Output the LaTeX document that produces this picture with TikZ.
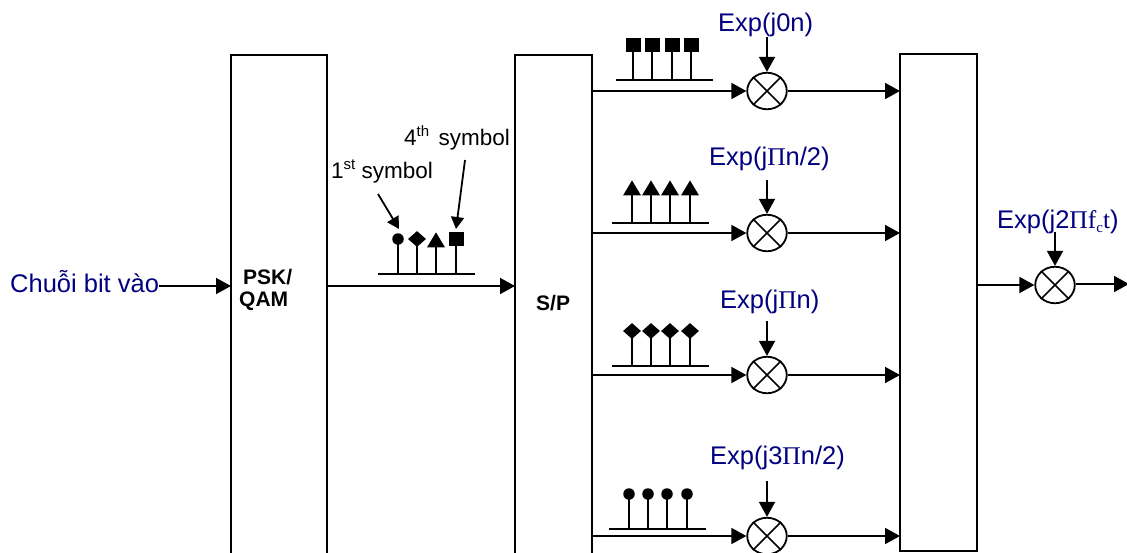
\documentclass[tikz,border=0pt]{standalone}
\usepackage{fontspec}
\setmainfont{Liberation Sans}
\newfontfamily\serifpi{Liberation Serif}
\usetikzlibrary{arrows.meta,shapes.geometric}
\definecolor{labelblue}{RGB}{0,0,128}
\newcommand{\PiG}{{\serifpi Π}}
\newcommand{\supt}[1]{\raisebox{9pt}{\fontsize{15}{15}\selectfont #1}}
\tikzset{
  block/.style={draw=black,line width=2pt,outer sep=0pt,fill=none,anchor=north west,inner sep=0pt,minimum width=#1},
  mixer/.style={draw=black,line width=1.8pt,ellipse,minimum width=39.5pt,minimum height=36.5pt,inner sep=0pt},
  flow/.style={line width=1.8pt,-{Triangle[length=15pt,width=16pt]}},
  thin flow/.style={line width=1.8pt,-{Triangle[length=12pt,width=13pt]}},
  wire/.style={line width=1.8pt},
  elabel/.style={text=labelblue,inner sep=0pt,anchor=base west,font=\fontsize{25.5}{30}\selectfont},
  blocktext/.style={inner sep=0pt,anchor=base west,font=\fontsize{21}{25}\selectfont\bfseries},
  symtext/.style={inner sep=0pt,anchor=base west,font=\fontsize{22.5}{27}\selectfont},
  sqsym/.style={fill=black,inner sep=0pt,minimum width=15pt,minimum height=14.5pt},
  dsym/.style={diamond,fill=black,inner sep=0pt,minimum width=18pt,minimum height=16pt},
  csym/.style={circle,fill=black,inner sep=0pt,minimum size=11.5pt},
  tsym/.style={isosceles triangle,isosceles triangle apex angle=60,isosceles triangle stretches,shape border rotate=90,fill=black,inner sep=0pt,minimum width=18pt,minimum height=15pt,anchor=apex},
}
\newcommand{\stemgroup}[7]{%
  \coordinate (#1L) at (#5,#4);
  \coordinate (#1R) at (#6,#4);
  \draw[wire] (#1L) -- (#1R);
  \foreach \sx [count=\si] in {#7} {
    \node[#2] (#1s\si) at (\sx,#3) {};
    \coordinate (#1b\si) at (\sx,#4);
    \draw[wire] (#1s\si.center) -- (#1b\si);
  }
}
\newcommand{\cross}[1]{\draw[line width=1.6pt] (#1.45) -- (#1.225) (#1.135) -- (#1.315);}
\begin{document}
\begin{tikzpicture}[x=1pt,y=-1pt]
\useasboundingbox (0,0) rectangle (1127,552);
\clip (0,0) rectangle (1127,552);
% blocks
\node[block=96pt,minimum height=520pt] (psk) at (231,55) {};
\node[block=77pt,minimum height=520pt] (sp) at (515,55) {};
\node[block=77pt,minimum height=497pt] (ifft) at (900,54) {};
\node[blocktext] (psklabel) at (243,284) {PSK/};
\node[blocktext] (qamlabel) at (239,306) {QAM};
\node[blocktext] (splabel) at (536,310) {S/P};
% input
\node[elabel] (input) at (10,292.5) {Chuỗi bit vào};
\draw[flow] (input.east |- 0,286) -- (psk.west |- 0,286);
\draw[flow] (psk.east |- 0,286) -- (sp.west |- 0,286);
% mixers
\node[mixer] (m1) at (767,91) {};
\node[mixer] (m2) at (767,233) {};
\node[mixer] (m3) at (767,375) {};
\node[mixer] (m4) at (767,536) {};
\node[mixer] (m5) at (1055,285) {};
\cross{m1}\cross{m2}\cross{m3}\cross{m4}\cross{m5}
\foreach \m in {m1,m2,m3,m4} {
  \draw[flow] (sp.east |- \m.west) -- (\m.west);
  \draw[flow] (\m.east) -- (ifft.west |- \m.east);
}
\coordinate (outend) at (1129,284);
\draw[flow] (ifft.east |- m5.west) -- (m5.west);
\draw[flow] (m5.east |- outend) -- (outend);
% exponent labels
\node[elabel] (e1) at (718,31) {Exp(j0n)};
\node[elabel] (e2) at (709,165) {Exp(j\PiG n/2)};
\node[elabel] (e3) at (720,308) {Exp(j\PiG n)};
\node[elabel] (e4) at (710,464) {Exp(j3\PiG n/2)};
\node[elabel] (e5) at (997,228.5) {Exp(j2\PiG{\serifpi f\raisebox{-4pt}{\fontsize{15}{15}\selectfont c}t})};
\coordinate (a1) at (767,37);
\coordinate (a2) at (767,180);
\coordinate (a3) at (767,321);
\coordinate (a4) at (767,481);
\coordinate (a5) at (1055,232);
\draw[flow] (a1) -- (m1.north);
\draw[flow] (a2) -- (m2.north);
\draw[flow] (a3) -- (m3.north);
\draw[flow] (a4) -- (m4.north);
\draw[flow] (a5) -- (m5.north);
% symbol trains
\stemgroup{g1}{sqsym}{45}{80}{616}{713}{633,652,672,691}
\stemgroup{g2}{tsym}{180}{223}{612}{709}{632,651,670,690}
\stemgroup{g3}{dsym}{331}{366}{612}{709}{632,651,670,690}
\stemgroup{g4}{csym}{494}{529}{609}{706}{629,648,667,687}
% mixed train
\coordinate (g0L) at (378,274);
\coordinate (g0R) at (475,274);
\draw[wire] (g0L) -- (g0R);
\node[csym] (s1) at (398,239) {};
\node[dsym] (s2) at (417,239) {};
\node[tsym] (s3) at (436,232) {};
\node[sqsym] (s4) at (456,239) {};
\foreach \i/\x in {1/398,2/417,3/436,4/456} {
  \coordinate (g0b\i) at (\x,274);
  \draw[wire] (s\i.center) -- (g0b\i);
}
\node[symtext] (first) at (331,178) {1\supt{st}\ symbol};
\node[symtext] (fourth) at (404,145) {4\supt{th}\hspace{9.5pt}symbol};
\coordinate (f1) at (378,194);
\coordinate (f2) at (399,229);
\coordinate (h1) at (465,160);
\coordinate (h2) at (456,229);
\draw[thin flow] (f1) -- (f2);
\draw[thin flow] (h1) -- (h2);
\end{tikzpicture}
\end{document}
